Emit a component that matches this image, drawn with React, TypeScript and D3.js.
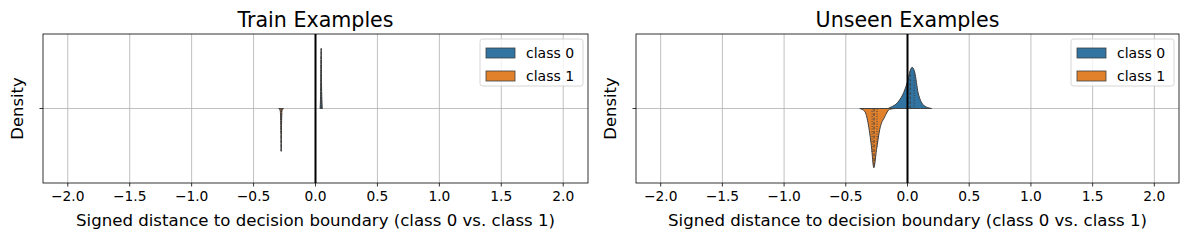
import React, { useEffect, useRef } from 'react';
import * as d3 from 'd3';

// x ticks shared by both panels
const xTicks = [-2.0, -1.5, -1.0, -0.5, 0.0, 0.5, 1.0, 1.5, 2.0];
const classNames = ['class 0', 'class 1'];
const classColors = ['#3274a1', '#e1812c'];

// [signed distance, density]
const trainClass0 = [[0.036, 0], [0.039, 0.6], [0.042, 3.0], [0.045, 7.0], [0.046, 8.0], [0.047, 6.0], [0.05, 2.0], [0.056, 0]];
const trainClass1 = [[-0.297, 0], [-0.285, 0.3], [-0.28, 2.0], [-0.278, 4.5], [-0.277, 5.7], [-0.276, 4.5], [-0.274, 2.0], [-0.27, 0.3], [-0.258, 0]];
const trainQuart0 = [0.045, 0.046, 0.047];
const trainQuart1 = [-0.279, -0.277, -0.275];

const unseenClass0 = [[-0.157, 0], [-0.12, 0.3], [-0.1, 0.5], [-0.062, 1.2], [-0.04, 1.8], [-0.022, 2.5], [0.0, 3.6], [0.019, 4.9], [0.037, 5.5], [0.059, 4.8], [0.086, 2.1], [0.105, 1.1], [0.127, 0.5], [0.16, 0.15], [0.195, 0]];
const unseenClass1 = [[-0.387, 0], [-0.346, 0.4], [-0.32, 1.9], [-0.292, 5.1], [-0.273, 7.9], [-0.251, 5.5], [-0.225, 2.8], [-0.184, 1.1], [-0.144, 0.1], [-0.1, 0]];
const unseenQuart0 = [0.0, 0.022, 0.054];
const unseenQuart1 = [-0.287, -0.271, -0.247];

const panels = [
  { title: 'Train Examples', left: 43, right: 588, halves: [trainClass0, trainClass1], quarts: [trainQuart0, trainQuart1] },
  { title: 'Unseen Examples', left: 636, right: 1179, halves: [unseenClass0, unseenClass1], quarts: [unseenQuart0, unseenQuart1] },
];

const App = () => {
  const svgRef = useRef(null);

  useEffect(() => {
    const svg = d3.select(svgRef.current);
    svg.selectAll('*').remove();
    const font = 'DejaVu Sans, sans-serif';
    const top = 34, bottom = 183;
    const mid = (top + bottom) / 2;
    const dens = d3.scaleLinear().domain([0, 10]).range([0, 75]);
    const fmt = d3.format('.1f');

    panels.forEach(p => {
      const x = d3.scaleLinear().domain([-2.2, 2.2]).range([p.left, p.right]);
      const g = svg.append('g');

      // grid
      g.selectAll('.vgrid').data(xTicks).enter().append('line')
        .attr('x1', d => x(d)).attr('x2', d => x(d))
        .attr('y1', top).attr('y2', bottom)
        .attr('stroke', '#b0b0b0').attr('stroke-width', 0.8);
      g.append('line')
        .attr('x1', p.left).attr('x2', p.right).attr('y1', mid).attr('y2', mid)
        .attr('stroke', '#b0b0b0').attr('stroke-width', 0.8);

      // split violins: class 0 above, class 1 below
      p.halves.forEach((pts, i) => {
        const sign = i === 0 ? -1 : 1;
        const area = d3.area()
          .x(d => x(d[0]))
          .y0(mid)
          .y1(d => mid + sign * dens(d[1]))
          .curve(d3.curveMonotoneX);
        g.append('path')
          .datum(pts)
          .attr('d', area)
          .attr('fill', classColors[i])
          .attr('stroke', '#3f3f3f')
          .attr('stroke-width', 1)
          .attr('stroke-linejoin', 'round');

        const interp = d3.scaleLinear().domain(pts.map(d => d[0])).range(pts.map(d => d[1])).clamp(true);
        p.quarts[i].forEach((q, k) => {
          g.append('line')
            .attr('x1', x(q)).attr('x2', x(q))
            .attr('y1', mid).attr('y2', mid + sign * dens(interp(q)))
            .attr('stroke', '#3f3f3f')
            .attr('stroke-width', 1)
            .attr('stroke-dasharray', k === 1 ? '3,1.5' : '1,1.5');
        });
      });

      // decision boundary
      g.append('line')
        .attr('x1', x(0)).attr('x2', x(0)).attr('y1', top).attr('y2', bottom)
        .attr('stroke', '#000').attr('stroke-width', 2);

      // frame
      g.append('rect')
        .attr('x', p.left).attr('y', top)
        .attr('width', p.right - p.left).attr('height', bottom - top)
        .attr('fill', 'none').attr('stroke', '#000').attr('stroke-width', 0.8);

      // x axis ticks
      g.selectAll('.xt').data(xTicks).enter().append('line')
        .attr('x1', d => x(d)).attr('x2', d => x(d))
        .attr('y1', bottom).attr('y2', bottom + 3.5)
        .attr('stroke', '#000').attr('stroke-width', 0.8);
      g.selectAll('.xl').data(xTicks).enter().append('text')
        .attr('x', d => x(d)).attr('y', 201)
        .attr('text-anchor', 'middle')
        .attr('font-family', font).attr('font-size', 13.8)
        .text(d => fmt(d));

      // y tick (no label)
      g.append('line')
        .attr('x1', p.left - 3.5).attr('x2', p.left).attr('y1', mid).attr('y2', mid)
        .attr('stroke', '#000').attr('stroke-width', 0.8);

      // labels
      g.append('text')
        .attr('x', (p.left + p.right) / 2).attr('y', 226)
        .attr('text-anchor', 'middle')
        .attr('font-family', font).attr('font-size', 16.6)
        .text('Signed distance to decision boundary (class 0 vs. class 1)');
      g.append('text')
        .attr('transform', `translate(${p.left - 20},${mid}) rotate(-90)`)
        .attr('text-anchor', 'middle')
        .attr('font-family', font).attr('font-size', 16.4)
        .text('Density');
      g.append('text')
        .attr('x', (p.left + p.right) / 2).attr('y', 27)
        .attr('text-anchor', 'middle')
        .attr('font-family', font).attr('font-size', 20.6)
        .text(p.title);

      // legend
      const lw = 103, lx = p.right - 5 - lw, ly = 39;
      const leg = g.append('g');
      leg.append('rect')
        .attr('x', lx).attr('y', ly).attr('width', lw).attr('height', 47)
        .attr('rx', 2.5)
        .attr('fill', 'white').attr('fill-opacity', 0.8)
        .attr('stroke', '#cccccc').attr('stroke-width', 0.8);
      classNames.forEach((name, i) => {
        leg.append('rect')
          .attr('x', lx + 6).attr('y', ly + 9 + i * 23)
          .attr('width', 29).attr('height', 10)
          .attr('fill', classColors[i])
          .attr('stroke', '#3f3f3f').attr('stroke-width', 0.8);
        leg.append('text')
          .attr('x', lx + 46).attr('y', ly + 19 + i * 23)
          .attr('font-family', font).attr('font-size', 14)
          .text(name);
      });
    });
  }, []);

  return (
    <svg ref={svgRef} width={1189} height={240}
      style={{ position: 'absolute', left: 0, top: 0, background: 'white' }} />
  );
};

export default App;
